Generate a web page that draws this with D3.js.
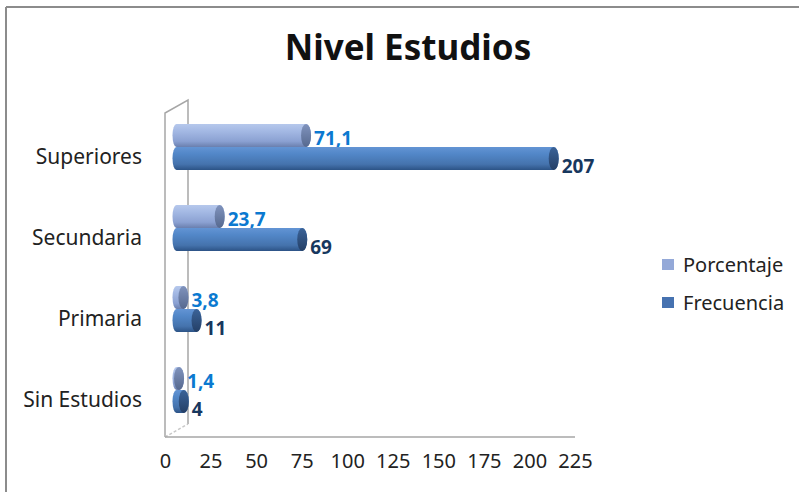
<!DOCTYPE html>
<html>
<head>
<meta charset="utf-8">
<script src="https://cdn.jsdelivr.net/npm/d3@7"></script>
<style>
  body { margin: 0; background: #fff; }
  text { font-family: 'Noto Sans', sans-serif; }
</style>
</head>
<body>
<div id="chart"></div>
<script>
const categories = ['Superiores', 'Secundaria', 'Primaria', 'Sin Estudios'];
const porcentaje = [71.1, 23.7, 3.8, 1.4];
const frecuencia = [207, 69, 11, 4];
const xTicks = [0, 25, 50, 75, 100, 125, 150, 175, 200, 225];
const seriesNames = ['Porcentaje', 'Frecuencia'];

const width = 799;
const height = 492;
const depth = { x: 23, y: -13 };

const svg = d3.select('#chart')
  .append('svg')
    .attr('width', width)
    .attr('height', height);

const defs = svg.append('defs');

function grad(id, stops) {
  const g = defs.append('linearGradient')
    .attr('id', id)
    .attr('x1', 0).attr('y1', 0)
    .attr('x2', 0).attr('y2', 1);
  stops.forEach(s => g.append('stop').attr('offset', s[0]).attr('stop-color', s[1]));
}
grad('g-porc', [[0, '#b6c8ec'], [0.3, '#a4b9e4'], [0.75, '#8ba1d2'], [1, '#6a7fae']]);
grad('g-porc-end', [[0, '#8093bd'], [1, '#56698f']]);
grad('g-frec', [[0, '#6394d4'], [0.3, '#5287c8'], [0.75, '#4573ad'], [1, '#2c5386']]);
grad('g-frec-end', [[0, '#3b6398'], [1, '#243f66']]);

const styles = [
  { body: 'url(#g-porc)', end: 'url(#g-porc-end)', label: '#0b79d0', legend: '#94a9d8', dy: 2 },
  { body: 'url(#g-frec)', end: 'url(#g-frec-end)', label: '#17375e', legend: '#4672b0', dy: 7 },
];

// outer frame (top and left edges only are visible)
svg.append('line')
  .attr('x1', 6).attr('y1', 7).attr('x2', width).attr('y2', 7)
  .attr('stroke', '#8c8c8c').attr('stroke-width', 2);
svg.append('line')
  .attr('x1', 6).attr('y1', 7).attr('x2', 6).attr('y2', height)
  .attr('stroke', '#8c8c8c').attr('stroke-width', 2);

// title
svg.append('text')
  .attr('x', 408)
  .attr('y', 46)
  .attr('text-anchor', 'middle')
  .attr('dominant-baseline', 'central')
  .attr('font-size', 35)
  .attr('font-weight', 'bold')
  .attr('fill', '#111')
  .text('Nivel Estudios');

const x = d3.scaleLinear()
  .domain([0, 225])
  .range([165, 575]);

const y = d3.scaleBand()
  .domain(categories)
  .range([113, 437]);

const pair = d3.scaleBand()
  .domain(seriesNames)
  .range([0, 46]);

// walls
const wall = svg.append('g')
  .attr('fill', 'none')
  .attr('stroke', '#a6a6a6')
  .attr('stroke-width', 1.5);
wall.append('path')
  .attr('d', `M${x(0)},${y.range()[1]} L${x(0)},${y.range()[0]} l${depth.x},${depth.y} L${x(0) + depth.x},${y.range()[1] + depth.y}`);
wall.append('line')
  .attr('x1', x(0)).attr('y1', y.range()[1])
  .attr('x2', x(0) + depth.x).attr('y2', y.range()[1] + depth.y)
  .attr('stroke', '#c8c8c8')
  .attr('stroke-dasharray', '3,2');
wall.append('line')
  .attr('x1', x(0)).attr('y1', y.range()[1])
  .attr('x2', x(225)).attr('y2', y.range()[1]);

// x axis labels
const xAxis = d3.axisBottom(x)
  .tickValues(xTicks)
  .tickSize(0)
  .tickPadding(0);
const gx = svg.append('g')
  .attr('transform', `translate(0, 454)`)
  .call(xAxis);
gx.select('.domain').remove();
gx.selectAll('text')
  .attr('font-family', "'Noto Sans', sans-serif")
  .attr('font-size', 20)
  .attr('fill', '#222');

// category labels
svg.append('g')
  .selectAll('text')
  .data(categories)
  .join('text')
    .attr('x', 142)
    .attr('y', d => y(d) + y.bandwidth() / 2 + 2)
    .attr('text-anchor', 'end')
    .attr('dominant-baseline', 'central')
    .attr('font-size', 21)
    .attr('fill', '#222')
    .text(d => d);

// cylinders
const bars = [];
categories.forEach((c, i) => {
  bars.push({ cat: c, s: 0, v: porcentaje[i], label: String(porcentaje[i]).replace('.', ',') });
  bars.push({ cat: c, s: 1, v: frecuencia[i], label: String(frecuencia[i]) });
});

const ox = depth.x / 2;
const oy = depth.y / 2;
const rx = 5;

const g = svg.append('g');
const bar = g.selectAll('g.bar')
  .data(bars)
  .join('g')
    .attr('class', 'bar');

function barTop(d) {
  return y(d.cat) + y.bandwidth() / 2 - 23 + pair(seriesNames[d.s]) + oy;
}

bar.append('path')
  .attr('fill', d => styles[d.s].body)
  .attr('d', d => {
    const h = pair.bandwidth();
    const ry = h / 2;
    const x0 = x(0) + ox;
    const x1 = x(d.v) + ox;
    const t = barTop(d);
    return `M${x0},${t} L${x1},${t} A${rx},${ry} 0 0 1 ${x1},${t + h} L${x0},${t + h} A${rx - 1},${ry} 0 0 1 ${x0},${t} Z`;
  });

bar.append('ellipse')
  .attr('cx', d => x(d.v) + ox)
  .attr('cy', d => barTop(d) + pair.bandwidth() / 2)
  .attr('rx', rx)
  .attr('ry', pair.bandwidth() / 2)
  .attr('fill', d => styles[d.s].end);

bar.append('text')
  .attr('x', d => x(d.v) + ox + rx + 3)
  .attr('y', d => barTop(d) + pair.bandwidth() / 2 + styles[d.s].dy)
  .attr('dominant-baseline', 'central')
  .attr('font-size', 19)
  .attr('font-weight', 'bold')
  .attr('fill', d => styles[d.s].label)
  .text(d => d.label);

// legend
const legend = svg.append('g')
  .selectAll('g')
  .data(seriesNames)
  .join('g')
    .attr('transform', (d, i) => `translate(662, ${264 + i * 38})`);
legend.append('rect')
  .attr('x', 0).attr('y', -5)
  .attr('width', 12).attr('height', 11)
  .attr('fill', (d, i) => styles[i].legend);
legend.append('text')
  .attr('x', 21)
  .attr('y', 0)
  .attr('dominant-baseline', 'central')
  .attr('font-size', 20)
  .attr('fill', '#222')
  .text(d => d);
</script>
</body>
</html>
